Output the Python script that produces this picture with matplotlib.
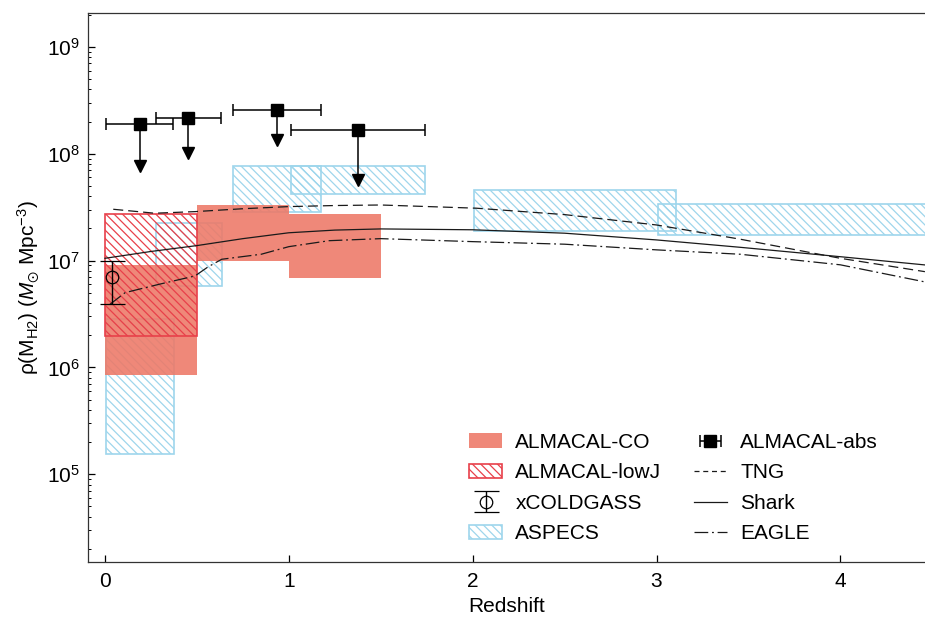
import numpy as np
import matplotlib
matplotlib.use('Agg')
import matplotlib.pyplot as plt
from matplotlib.patches import Patch
from matplotlib.lines import Line2D

plt.rcParams['font.family'] = ['Liberation Sans', 'DejaVu Sans']
plt.rcParams['mathtext.fontset'] = 'custom'
plt.rcParams['mathtext.rm'] = 'Liberation Sans'
plt.rcParams['mathtext.it'] = 'Liberation Sans:italic'
plt.rcParams['mathtext.fallback'] = 'stix'
plt.rcParams['hatch.linewidth'] = 0.9

# ---------------- data ----------------
# ALMACAL-CO (filled boxes)
co_zlo = [0.0, 0.5, 1.0]
co_zhi = [0.5, 1.0, 1.5]
co_lo = [8.5e5, 1.0e7, 6.8e6]
co_hi = [9.1e6, 3.3e7, 2.75e7]

# ALMACAL-lowJ (hatched red box)
lowj_zlo = [0.0]
lowj_zhi = [0.5]
lowj_lo = [1.97e6]
lowj_hi = [2.73e7]

# ASPECS (hatched blue boxes)
aspecs_zlo = [0.003, 0.277, 0.698, 1.01, 2.009, 3.01]
aspecs_zhi = [0.377, 0.638, 1.175, 1.743, 3.108, 4.5]
aspecs_lo = [1.55e5, 5.8e6, 2.83e7, 4.2e7, 1.88e7, 1.74e7]
aspecs_hi = [2.84e6, 2.23e7, 7.7e7, 7.7e7, 4.55e7, 3.37e7]

# ALMACAL-abs upper limits
abs_z = [0.19, 0.453, 0.937, 1.375]
abs_zlo = [0.007, 0.276, 0.698, 1.01]
abs_zhi = [0.372, 0.633, 1.175, 1.743]
abs_rho = [1.89e8, 2.15e8, 2.54e8, 1.66e8]
abs_lim = [7.6e7, 1.01e8, 1.35e8, 5.7e7]

# xCOLDGASS
xcg_z = [0.036]
xcg_rho = [6.98e6]
xcg_lo = [3.9e6]
xcg_hi = [1.0e7]

# Simulations (log10 rho)
tng_z = [0.045, 0.27, 0.49, 0.75, 1.0, 1.25, 1.5, 2.02, 2.5, 3.0, 3.455, 4.0, 4.46]
tng_logrho = [7.48, 7.443, 7.458, 7.485, 7.505, 7.515, 7.52, 7.49, 7.43, 7.333, 7.20, 7.021, 6.896]

shark_z = [0.0, 0.25, 0.5, 0.75, 1.0, 1.25, 1.5, 2.0, 2.5, 3.0, 3.455, 4.0, 4.46]
shark_logrho = [7.021, 7.085, 7.14, 7.205, 7.26, 7.285, 7.296, 7.288, 7.256, 7.193, 7.124, 7.036, 6.959]

eagle_z = [0.027, 0.11, 0.3, 0.49, 0.56, 0.635, 0.85, 1.0, 1.22, 1.5, 2.0, 2.5, 3.0, 3.455, 4.0, 4.46]
eagle_logrho = [6.59, 6.70, 6.78, 6.856, 6.94, 7.012, 7.059, 7.13, 7.186, 7.205, 7.177, 7.153, 7.10, 7.059, 6.96, 6.80]

# ---------------- styles ----------------
co_color = '#ED7866'
lowj_color = '#E8404A'
aspecs_color = '#9ED6EC'
line_color = '#1a1a1a'
fs = 15

fig = plt.figure(figsize=(9.25, 6.17), dpi=100)
ax = fig.add_axes([0.0951, 0.0891, 0.906, 0.890])
ax.set_yscale('log')

# ASPECS
ax.bar(aspecs_zlo, np.array(aspecs_hi) - np.array(aspecs_lo), bottom=aspecs_lo,
       width=np.array(aspecs_zhi) - np.array(aspecs_zlo), align='edge',
       facecolor='none', edgecolor=aspecs_color, hatch='\\\\\\\\', linewidth=1.2, zorder=1)

# ALMACAL-CO
ax.bar(co_zlo, np.array(co_hi) - np.array(co_lo), bottom=co_lo,
       width=np.array(co_zhi) - np.array(co_zlo), align='edge',
       color=co_color, alpha=0.88, linewidth=0, zorder=2)

# ALMACAL-lowJ
ax.bar(lowj_zlo, np.array(lowj_hi) - np.array(lowj_lo), bottom=lowj_lo,
       width=np.array(lowj_zhi) - np.array(lowj_zlo), align='edge',
       facecolor='none', edgecolor=lowj_color, hatch='\\\\\\\\', linewidth=1.2, zorder=3)

# simulations
ax.plot(tng_z, 10 ** np.array(tng_logrho), color=line_color, lw=0.9,
        linestyle=(0, (8, 4)), zorder=4)
ax.plot(shark_z, 10 ** np.array(shark_logrho), color=line_color, lw=0.9,
        linestyle='-', zorder=4)
ax.plot(eagle_z, 10 ** np.array(eagle_logrho), color=line_color, lw=0.9,
        linestyle=(0, (11, 3, 1.5, 3)), zorder=4)

# xCOLDGASS
xcg = ax.errorbar(xcg_z, xcg_rho,
                  yerr=[np.array(xcg_rho) - np.array(xcg_lo), np.array(xcg_hi) - np.array(xcg_rho)],
                  fmt='o', mfc='none', mec='black', ms=9, mew=0.9, ecolor='black',
                  elinewidth=1.0, capsize=9, capthick=1.0, zorder=5)

# ALMACAL-abs
abs_z_a = np.array(abs_z)
ab = ax.errorbar(abs_z, abs_rho,
                 xerr=[abs_z_a - np.array(abs_zlo), np.array(abs_zhi) - abs_z_a],
                 fmt='s', color='black', ms=8.5, elinewidth=1.1, capsize=4.5,
                 capthick=1.1, zorder=6)
ax.vlines(abs_z, abs_lim, abs_rho, color='black', lw=1.1, zorder=6)
ax.plot(abs_z, abs_lim, linestyle='none', marker='v', color='black', ms=8, zorder=6)

# axes
ax.set_xlim(-0.0925, 4.466)
ax.set_ylim(1.507e4, 2.08e9)
ax.set_xticks([0, 1, 2, 3, 4])
ax.tick_params(axis='both', which='major', direction='in', length=5, width=0.9,
               labelsize=fs, top=False, right=False)
ax.tick_params(axis='both', which='minor', direction='in', length=2.5, width=0.7,
               top=False, right=False)
ax.tick_params(axis='x', pad=7)
ax.tick_params(axis='y', pad=6)
for s in ax.spines.values():
    s.set_linewidth(0.9)
    s.set_color('#333333')

ax.set_xlabel('Redshift', fontsize=fs, labelpad=4.5)
ax.set_ylabel(r'ρ(M$_{\rm H2}$) ($M_{\odot}$ Mpc$^{-3}$)', fontsize=fs, labelpad=4)

# legend
h_co = Patch(facecolor=co_color, alpha=0.88, edgecolor='none')
h_lowj = Patch(facecolor='none', edgecolor=lowj_color, hatch='\\\\\\\\', linewidth=1.2)
h_asp = Patch(facecolor='none', edgecolor=aspecs_color, hatch='\\\\\\\\', linewidth=1.2)
h_tng = Line2D([], [], color=line_color, lw=0.9, linestyle=(0, (4, 3)))
h_shark = Line2D([], [], color=line_color, lw=0.9)
h_eagle = Line2D([], [], color=line_color, lw=0.9, linestyle=(0, (11, 3, 1.5, 3)))

ax.legend([h_co, h_lowj, xcg, h_asp, ab, h_tng, h_shark, h_eagle],
          ['ALMACAL-CO', 'ALMACAL-lowJ', 'xCOLDGASS', 'ASPECS',
           'ALMACAL-abs', 'TNG', 'Shark', 'EAGLE'],
          ncol=2, frameon=False, fontsize=fs, loc='lower right',
          bbox_to_anchor=(0.965, 0.0), handlelength=1.6, handletextpad=0.63,
          columnspacing=1.55, labelspacing=0.55)

fig.savefig('out.png', dpi=100)
